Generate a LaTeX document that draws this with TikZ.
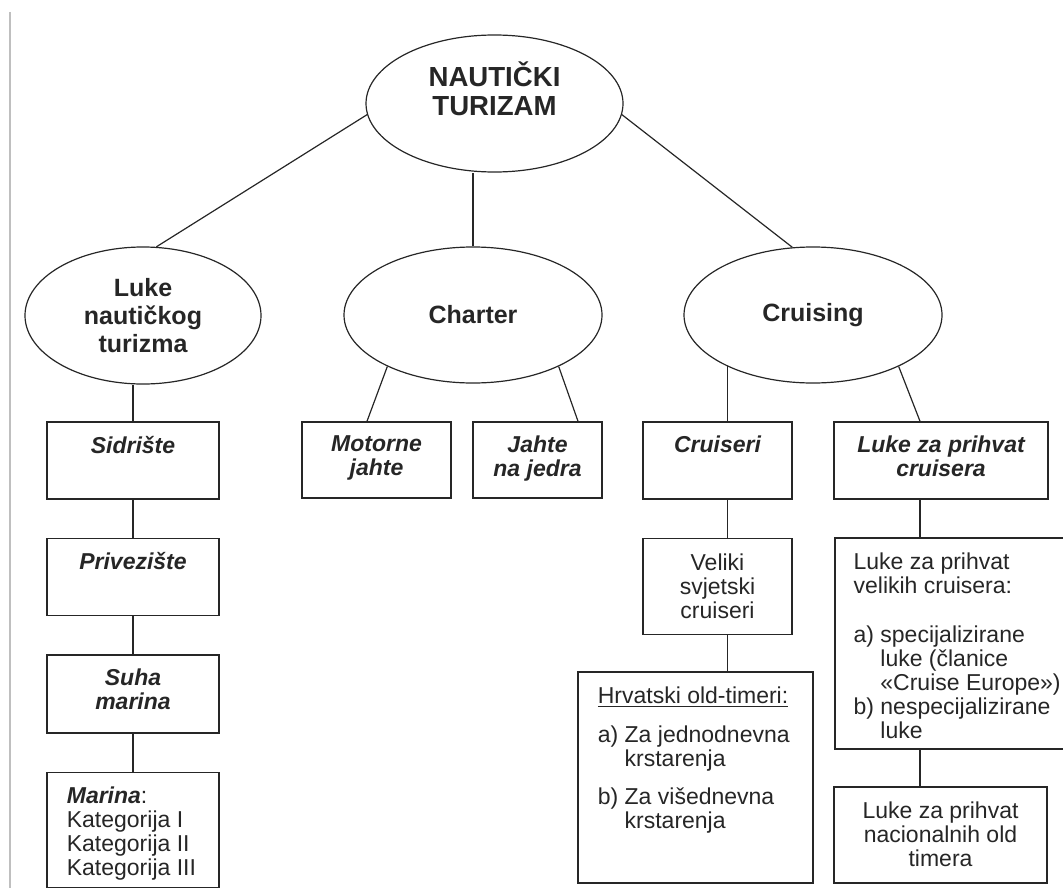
\documentclass[tikz,border=0pt]{standalone}
\usepackage{fontspec}
\setmainfont{Liberation Sans}
\usetikzlibrary{shapes.geometric,positioning}

\begin{document}
\begin{tikzpicture}[x=0.5pt,y=-0.5pt,line width=0.6pt,color=black!85,
                    oval node/.style={ellipse,draw,inner sep=0pt,align=center,
                                      font=\fontsize{12.5}{14}\selectfont\bfseries},
                    oval text/.style={inner sep=0pt,align=center,
                                      font=\fontsize{13.8}{14.5}\selectfont\bfseries},
                    box node/.style={rectangle,draw,line width=0.75pt,inner sep=0pt},
                    head text/.style={inner sep=0pt,align=center,
                                      font=\fontsize{11.5}{12}\selectfont\bfseries\itshape},
                    plain text/.style={inner sep=0pt,font=\fontsize{11.5}{12}\selectfont}]

  \useasboundingbox (0,0) rectangle (1063,888);
  \clip (0,0) rectangle (1063,888);
  \draw[gray!50,line width=0.8pt] (10,12) -- (10,888);

  \node[oval node,minimum width=128.5pt,minimum height=68.5pt] (root) at (494.5,103.5) {};
  \node[oval text] (root-t) at ([yshift=7.5pt]root.center) {NAUTIČKI\\TURIZAM};
  \node[oval node,minimum width=118pt,minimum height=68.5pt] (luke) at (143,315.5) {Luke\\nautičkog\\turizma};
  \node[oval node,minimum width=129pt,minimum height=68pt] (charter) at (473,315) {Charter};
  \node[oval node,minimum width=129pt,minimum height=68pt] (cruising) at (813,315) {Cruising};

  \node[box node,minimum width=86pt,minimum height=38.5pt] (sidriste) at (133,460.5) {};
  \node[box node,minimum width=86pt,minimum height=38.5pt,below=19pt of sidriste] (privez) {};
  \node[box node,minimum width=86pt,minimum height=39pt,below=19pt of privez] (suha) {};
  \node[box node,minimum width=86pt,minimum height=57.5pt,below=19pt of suha] (marina) {};
  \node[box node,minimum width=74.5pt,minimum height=38pt] (motorne) at (376.5,460) {};
  \node[box node,minimum width=64.5pt,minimum height=38pt] (jahte) at (537.5,460) {};
  \node[box node,minimum width=74.5pt,minimum height=38.5pt] (cruiseri) at (717.5,460.5) {};
  \node[box node,minimum width=107pt,minimum height=38.5pt] (lukec) at (941,460.5) {};
  \node[box node,minimum width=74.5pt,minimum height=48pt,below=19pt of cruiseri] (veliki) {};
  \node[box node,minimum width=117.5pt,minimum height=105.5pt] (hrvatski) at (695.5,777.5) {};
  \node[box node,minimum width=124pt,minimum height=105.5pt,anchor=north west] (lukev) at (834,537) {};
  \node[box node,minimum width=106.5pt,minimum height=48pt] (lukenac) at (940.5,835) {};

  \node[head text,below=7pt of sidriste.north] (sidriste-t) {Sidrište};
  \node[head text,below=7pt of privez.north] (privez-t) {Privezište};
  \node[head text,below=7pt of suha.north] (suha-t) {Suha\\marina};
  \node[head text,below=7pt of motorne.north] (motorne-t) {Motorne\\jahte};
  \node[head text,below=7pt of jahte.north] (jahte-t) {Jahte\\na jedra};
  \node[head text,below=7pt of cruiseri.north] (cruiseri-t) {Cruiseri};
  \node[head text,below=7pt of lukec.north] (lukec-t) {Luke za prihvat\\cruisera};

  \node[plain text,align=left,anchor=north west] (marina-t) at ([xshift=10pt,yshift=-7pt]marina.north west)
    {\textbf{\textit{Marina}}:\\Kategorija I\\Kategorija II\\Kategorija III};
  \node[plain text,align=center,below=7.5pt of veliki.north] (veliki-t) {Veliki\\svjetski\\cruiseri};
  \node[plain text,align=left,anchor=north west] (hrvatski-t) at ([xshift=10pt,yshift=-7.5pt]hrvatski.north west)
    {\underline{Hrvatski old-timeri:}\\[7.5pt]a) Za jednodnevna\\\hspace*{13.4pt}krstarenja\\[7pt]b) Za višednevna\\\hspace*{13.4pt}krstarenja};
  \node[plain text,align=left,anchor=north west] (lukev-t) at ([xshift=9.5pt,yshift=-7.5pt]lukev.north west)
    {Luke za prihvat\\velikih cruisera:\\[12.5pt]a) specijalizirane\\\hspace*{13.4pt}luke (članice\\\hspace*{13.4pt}«Cruise Europe»)\\b) nespecijalizirane\\\hspace*{13.4pt}luke};
  \node[plain text,align=center,below=7.5pt of lukenac.north] (lukenac-t) {Luke za prihvat\\nacionalnih old\\timera};

  \coordinate (cv) at (cruising.211);
  \coordinate (lc) at ([xshift=-10.5pt]lukec.south);

  \path (root.185) edge (luke.79)
        (root.355) edge (cruising.107)
        (charter.north) edge (charter.north |- root.south)
        (sidriste.north) edge (sidriste.north |- luke.south)
        (sidriste) edge (privez)
        (privez) edge (suha)
        (suha) edge (marina)
        (charter.211) edge ([xshift=-4.75pt]motorne.north)
        (charter.329) edge ([xshift=20.25pt]jahte.north)
        (cv) edge (cv |- cruiseri.north)
        (cv |- cruiseri.south) edge (cv |- veliki.north)
        (cv |- veliki.south) edge (cv |- hrvatski.north)
        (cruising.329) edge ([xshift=-10.5pt]lukec.north)
        (lc) edge (lc |- lukev.north)
        (lc |- lukev.south) edge (lc |- lukenac.north);
\end{tikzpicture}
\end{document}
